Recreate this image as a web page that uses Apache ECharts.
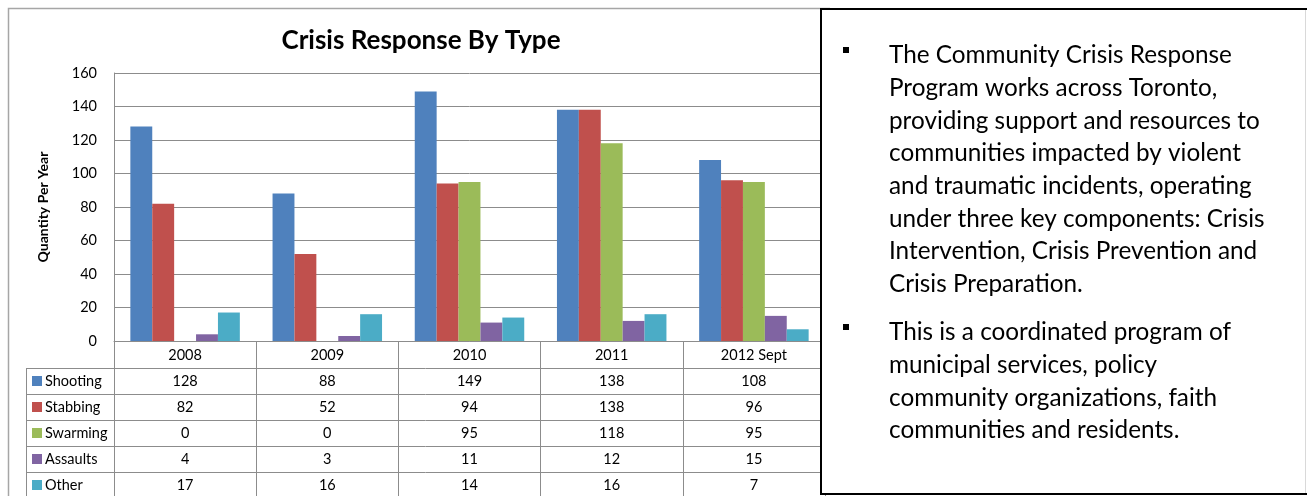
<!DOCTYPE html>
<html>
<head>
<meta charset="utf-8">
<script src="https://cdn.jsdelivr.net/npm/echarts@6/dist/echarts.min.js"></script>
<style>
html,body{margin:0;padding:0;background:#fff;}
#main{width:1307px;height:496px;}
</style>
</head>
<body>
<div id="main"></div>
<script>
// ---- data ----
const categories = ['2008', '2009', '2010', '2011', '2012 Sept'];
const seriesNames = ['Shooting', 'Stabbing', 'Swarming', 'Assaults', 'Other'];
const shooting = [128, 88, 149, 138, 108];
const stabbing = [82, 52, 94, 138, 96];
const swarming = [0, 0, 95, 118, 95];
const assaults = [4, 3, 11, 12, 15];
const other = [17, 16, 14, 16, 7];
const yTicks = { min: 0, max: 160, interval: 20 };
const titleText = 'Crisis Response By Type';
const yAxisName = 'Quantity Per Year';
const bullet1 = ['The Community Crisis Response', 'Program works across Toronto,', 'providing support and resources to', 'communities impacted by violent', 'and traumatic incidents, operating', 'under three key components: Crisis', 'Intervention, Crisis Prevention and', 'Crisis Preparation.'];
const bullet2 = ['This is a coordinated program of', 'municipal services, policy', 'community organizations, faith', 'communities and residents.'];

// ---- styles ----
const colors = ['#4F81BD', '#C0504D', '#9BBB59', '#8064A2', '#4BACC6'];
const FONT = 'Lato, "Open Sans", sans-serif';
const gridColor = '#8c8c8c';
const values = [shooting, stabbing, swarming, assaults, other];

const chart = echarts.init(document.getElementById('main'), null, { renderer: 'canvas' });

const option = {
  animation: false,
  backgroundColor: '#fff',
  textStyle: { fontFamily: FONT },
  title: {
    text: titleText,
    left: 416, top: 23, textAlign: 'center',
    textStyle: { fontFamily: FONT, fontWeight: 'bold', fontSize: 26, color: '#000' }
  },
  grid: { left: 114, right: 482, top: 73, bottom: 155, containLabel: false },
  xAxis: {
    type: 'category',
    data: categories,
    axisLine: { show: true, lineStyle: { color: gridColor, width: 1 } },
    axisTick: { show: true, length: 160, lineStyle: { color: gridColor, width: 1 } },
    axisLabel: { color: '#000', fontSize: 14.5, margin: 7, fontFamily: FONT }
  },
  yAxis: {
    type: 'value',
    min: yTicks.min, max: yTicks.max, interval: yTicks.interval,
    name: yAxisName,
    nameLocation: 'middle',
    nameGap: 64,
    nameRotate: 90,
    nameTextStyle: { fontFamily: FONT, fontWeight: 'bold', fontSize: 14, color: '#000', padding: [0, 0, 0, 0] },
    axisLine: { show: true, lineStyle: { color: gridColor, width: 1 } },
    axisTick: { show: false },
    splitLine: { show: true, lineStyle: { color: gridColor, width: 1 } },
    axisLabel: { color: '#000', fontSize: 14.5, margin: 17, fontFamily: FONT }
  },
  series: seriesNames.map((n, i) => ({
    name: n,
    type: 'bar',
    data: values[i],
    barGap: '0%',
    barCategoryGap: '23%',
    itemStyle: { color: colors[i] }
  }))
};
chart.setOption(option);

// ---- table + text box built from chart scales ----
function buildGraphics() {
  const c0 = chart.convertToPixel({ xAxisIndex: 0 }, 0);
  const c1 = chart.convertToPixel({ xAxisIndex: 0 }, 1);
  const bw = c1 - c0;
  const leftEdge = c0 - bw / 2;
  const rightEdge = leftEdge + bw * categories.length;
  const yBase = chart.convertToPixel({ yAxisIndex: 0 }, 0);
  const headerH = 27, rowH = 26, tableLeft = 26;
  const els = [];
  // outer chart border
  els.push({ type: 'polyline', shape: { points: [[8.5, 600], [8.5, 8.5], [830, 8.5]] }, style: { stroke: '#a6a6a6', lineWidth: 1.5, fill: null }, z: 1 });
  // rows
  for (let r = 0; r <= seriesNames.length; r++) {
    const y = Math.round(yBase + headerH + r * rowH) + 0.5;
    els.push({ type: 'line', shape: { x1: tableLeft, y1: y, x2: rightEdge, y2: y }, style: { stroke: gridColor, lineWidth: 1 }, z: 5 });
  }
  const vy1 = Math.round(yBase + headerH);
  els.push({ type: 'line', shape: { x1: tableLeft + 0.5, y1: vy1, x2: tableLeft + 0.5, y2: 600 }, style: { stroke: gridColor, lineWidth: 1 }, z: 5 });
  // cells
  seriesNames.forEach((n, r) => {
    const cy = yBase + headerH + r * rowH + rowH / 2;
    els.push({ type: 'rect', shape: { x: tableLeft + 6, y: Math.round(cy - 5), width: 10, height: 10 }, style: { fill: colors[r] }, z: 6 });
    els.push({ type: 'text', x: tableLeft + 19, y: cy, style: { text: n, fontFamily: FONT, fontSize: 14.5, fill: '#000', verticalAlign: 'middle', align: 'left' }, z: 6 });
    values[r].forEach((v, i) => {
      const cx = chart.convertToPixel({ xAxisIndex: 0 }, i);
      els.push({ type: 'text', x: cx, y: cy, style: { text: String(v), fontFamily: FONT, fontSize: 14.5, fill: '#000', verticalAlign: 'middle', align: 'center' }, z: 6 });
    });
  });
  // text box
  els.push({ type: 'rect', shape: { x: 821, y: 9, width: 520, height: 485 }, style: { fill: '#fff', stroke: '#000', lineWidth: 2 }, z: 20 });
  els.push({ type: 'line', shape: { x1: 1305.5, y1: 10, x2: 1305.5, y2: 493 }, style: { stroke: '#d9d9d9', lineWidth: 1 }, z: 21 });
  const lh = 32.7;
  els.push({ type: 'rect', shape: { x: 843, y: 47, width: 6, height: 6 }, style: { fill: '#000' }, z: 21 });
  els.push({ type: 'text', x: 889, y: 39, style: { text: bullet1.join('\n'), fontFamily: FONT, fontSize: 24.3, lineHeight: lh, fill: '#000', verticalAlign: 'top', align: 'left' }, z: 21 });
  els.push({ type: 'rect', shape: { x: 843, y: 324, width: 6, height: 6 }, style: { fill: '#000' }, z: 21 });
  els.push({ type: 'text', x: 889, y: 316, style: { text: bullet2.join('\n'), fontFamily: FONT, fontSize: 24.3, lineHeight: lh, fill: '#000', verticalAlign: 'top', align: 'left' }, z: 21 });
  chart.setOption({ graphic: { elements: els } });
}
buildGraphics();
</script>
</body>
</html>
